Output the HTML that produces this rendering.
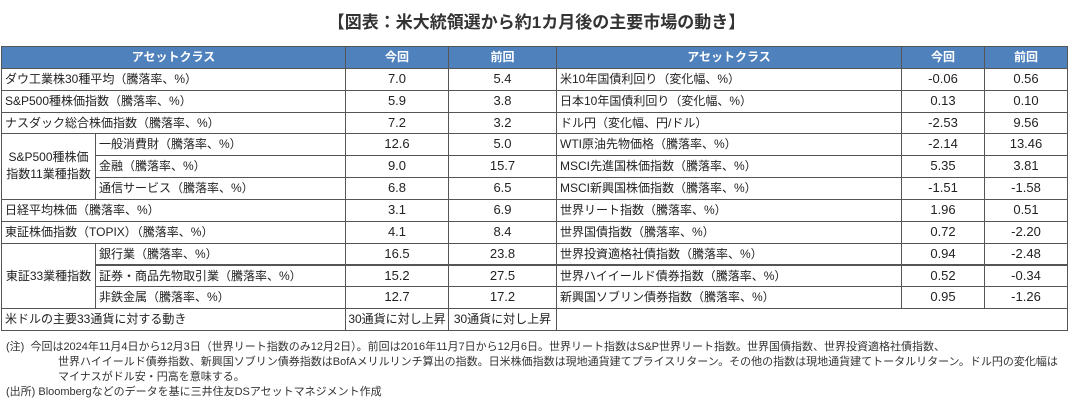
<!DOCTYPE html>
<html><head><meta charset="utf-8"><style>
body{margin:0;width:1073px;height:407px;background:#fff;font-family:"Liberation Sans","Noto Sans CJK JP",sans-serif;color:#222;position:relative;overflow:hidden}
.t{position:absolute;left:0;width:1073px;top:8px;text-align:center;font-size:17px;font-weight:bold;color:#333}
.c{position:absolute;box-sizing:border-box;border:1px solid #555;font-size:12px;line-height:20px;white-space:nowrap;overflow:hidden;margin:-1px 0 0 -1px}
.h{background:#4f81bd;color:#fff;font-weight:bold;text-align:center}
.n{text-align:center;font-size:13px}
.m{text-align:center}
.s{font-size:12px}
.l{padding-left:3px}
.note{position:absolute;font-size:11px;line-height:15px;color:#333;white-space:nowrap}
</style></head><body>
<div class="t">【図表：米大統領選から約1カ月後の主要市場の動き】</div>
<div id="g"></div>
<div class="note" style="left:6px;top:340px">(注)&nbsp; 今回は2024年11月4日から12月3日（世界リート指数のみ12月2日）。前回は2016年11月7日から12月6日。世界リート指数はS&amp;P世界リート指数。世界国債指数、世界投資適格社債指数、</div>
<div class="note" style="left:58px;top:355px">世界ハイイールド債券指数、新興国ソブリン債券指数はBofAメリルリンチ算出の指数。日米株価指数は現地通貨建てプライスリターン。その他の指数は現地通貨建てトータルリターン。ドル円の変化幅は</div>
<div class="note" style="left:58px;top:370px">マイナスがドル安・円高を意味する。</div>
<div class="note" style="left:6px;top:385px">(出所) Bloombergなどのデータを基に三井住友DSアセットマネジメント作成</div>
<script>
var T=47,H=21.85;
function y(i){return T+i*H;}
var out='';
function cell(x1,r1,x2,r2,txt,cls){out+='<div class="c '+cls+'" style="left:'+x1+'px;top:'+y(r1).toFixed(1)+'px;width:'+(x2-x1+1)+'px;height:'+(y(r2)-y(r1)+1).toFixed(1)+'px;line-height:'+(y(r2)-y(r1)-1).toFixed(1)+'px">'+txt+'</div>';}
cell(2,0,346,1,'アセットクラス','h');cell(346,0,449,1,'今回','h');cell(449,0,557,1,'前回','h');
cell(557,0,902,1,'アセットクラス','h');cell(902,0,985,1,'今回','h');cell(985,0,1068,1,'前回','h');
var L=[['ダウ工業株30種平均（騰落率、%）','7.0','5.4'],['S&amp;P500種株価指数（騰落率、%）','5.9','3.8'],['ナスダック総合株価指数（騰落率、%）','7.2','3.2'],
['一般消費財（騰落率、%）','12.6','5.0'],['金融（騰落率、%）','9.0','15.7'],['通信サービス（騰落率、%）','6.8','6.5'],
['日経平均株価（騰落率、%）','3.1','6.9'],['東証株価指数（TOPIX）（騰落率、%）','4.1','8.4'],
['銀行業（騰落率、%）','16.5','23.8'],['証券・商品先物取引業（騰落率、%）','15.2','27.5'],['非鉄金属（騰落率、%）','12.7','17.2'],
['米ドルの主要33通貨に対する動き','30通貨に対し上昇','30通貨に対し上昇']];
var sub={3:1,4:1,5:1,8:1,9:1,10:1};
for(var i=0;i<12;i++){var r=i+1;var x=sub[i]?96:2;var k=i==11?'n s':'n';cell(x,r,346,r+1,L[i][0],'l');cell(346,r,449,r+1,L[i][1],k);cell(449,r,557,r+1,L[i][2],k);}
out+='<div class="c m" style="left:2px;top:'+y(4).toFixed(1)+'px;width:95px;height:'+(3*H+1).toFixed(1)+'px;line-height:17px;padding-top:'+(1.5*H-18).toFixed(1)+'px">S&amp;P500種株価<br>指数11業種指数</div>';
cell(2,9,96,12,'東証33業種指数','m');
var R=[['米10年国債利回り（変化幅、%）','-0.06','0.56'],['日本10年国債利回り（変化幅、%）','0.13','0.10'],['ドル円（変化幅、円/ドル）','-2.53','9.56'],
['WTI原油先物価格（騰落率、%）','-2.14','13.46'],['MSCI先進国株価指数（騰落率、%）','5.35','3.81'],['MSCI新興国株価指数（騰落率、%）','-1.51','-1.58'],
['世界リート指数（騰落率、%）','1.96','0.51'],['世界国債指数（騰落率、%）','0.72','-2.20'],['世界投資適格社債指数（騰落率、%）','0.94','-2.48'],
['世界ハイイールド債券指数（騰落率、%）','0.52','-0.34'],['新興国ソブリン債券指数（騰落率、%）','0.95','-1.26']];
for(var i=0;i<11;i++){var r=i+1;cell(557,r,902,r+1,R[i][0],'l');cell(902,r,985,r+1,R[i][1],'n');cell(985,r,1068,r+1,R[i][2],'n');}
cell(557,12,1068,13,'','');
document.getElementById('g').innerHTML=out;
</script>
</body></html>
